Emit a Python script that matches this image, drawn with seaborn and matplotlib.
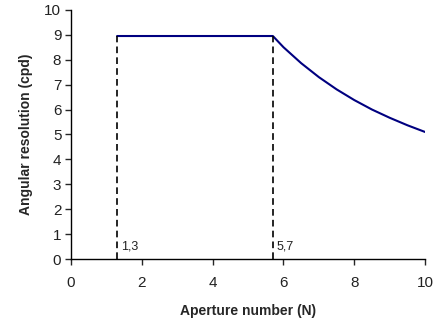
import numpy as np
import pandas as pd
import matplotlib
matplotlib.use('Agg')
import matplotlib.pyplot as plt
import seaborn as sns

# values
aperture = [1.3, 5.7, 6.0, 6.5, 7.0, 7.5, 8.0, 8.5, 9.0, 9.5, 10.0]
resolution = [8.95, 8.95, 8.5, 7.86, 7.3, 6.81, 6.38, 6.0, 5.67, 5.37, 5.1]
markers_x = [1.3, 5.7]
marker_labels = ['1,3', '5,7']
x_ticks = [0, 2, 4, 6, 8, 10]
y_ticks = list(range(0, 11))

sns.set_style('ticks')
plt.rcParams['font.family'] = ['Liberation Sans', 'DejaVu Sans']

df = pd.DataFrame({'N': aperture, 'cpd': resolution})

fig = plt.figure(figsize=(4.36, 3.28), dpi=100)
ax = fig.add_axes([0.163, 0.21, 0.812, 0.76])

sns.lineplot(data=df, x='N', y='cpd', color='#000080', linewidth=1.5, ax=ax)

for xv, lab in zip(markers_x, marker_labels):
    ax.plot([xv, xv], [0, resolution[0]], color='black', linestyle=(0, (4, 2.5)), linewidth=1.2)
    ax.text(xv + 0.1, 0.5, lab, fontsize=9, color='#222222', va='center', ha='left')

ax.set_xlim(0, 10)
ax.set_ylim(0, 10)
ax.set_xticks(x_ticks)
ax.set_yticks(y_ticks)
ax.tick_params(axis='both', labelsize=11, length=4, width=1, direction='out', labelcolor='#222222')
ax.tick_params(axis='x', pad=8)
ax.tick_params(axis='y', pad=3)
ax.set_xlabel('Aperture number (N)', fontsize=10, fontweight='bold', labelpad=10)
ax.set_ylabel('Angular resolution (cpd)', fontsize=10, fontweight='bold', labelpad=8)
sns.despine(ax=ax)
for sp in ['left', 'bottom']:
    ax.spines[sp].set_linewidth(1)
    ax.spines[sp].set_color('black')

fig.savefig('out.png', dpi=100)
